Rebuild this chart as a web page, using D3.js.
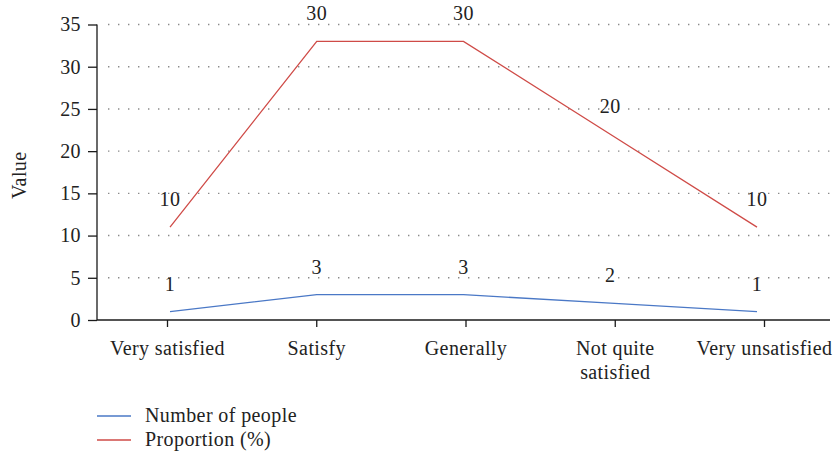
<!DOCTYPE html>
<html>
<head>
<meta charset="utf-8">
<script src="https://cdn.jsdelivr.net/npm/d3@7/dist/d3.min.js"></script>
<style>
  html, body { margin: 0; padding: 0; background: #fff; }
  svg { display: block; }
  svg text { font-family: "Liberation Serif", "DejaVu Serif", serif; font-size: 20px; letter-spacing: 0.4px; fill: #222; }
</style>
</head>
<body>
<svg id="chart" width="835" height="456"></svg>
<script>
// Satisfaction survey: head count and share per answer
const categories = ["Very satisfied", "Satisfy", "Generally", "Not quite satisfied", "Very unsatisfied"];
const numberOfPeople = [1, 3, 3, 2, 1];
const proportion = [11, 33, 33, 22, 11];
const yTicks = [0, 5, 10, 15, 20, 25, 30, 35];
const seriesNames = ["Number of people", "Proportion (%)"];
const seriesColors = ["#4a78c6", "#cf4b47"];

const svg = d3.select("#chart");
const margin = { left: 97, top: 24.5 };

// Category axis positions and a slightly narrower span for the line vertices
const x = d3.scalePoint().domain(categories).range([167, 764]);
const xLine = d3.scalePoint().domain(categories).range([170, 757]);
const y = d3.scaleLinear().domain([0, 35]).range([320, margin.top]);

// Dotted horizontal gridlines
svg.append("g")
  .selectAll("line")
  .data(yTicks.filter(d => d > 0))
  .join("line")
  .attr("x1", 108).attr("x2", 830)
  .attr("y1", d => y(d)).attr("y2", d => y(d))
  .attr("stroke", "#8a8a8a")
  .attr("stroke-width", 1.4)
  .attr("stroke-dasharray", "1.4,8.6");

// Y axis
const yAxis = svg.append("g")
  .attr("transform", `translate(${margin.left},0)`)
  .call(d3.axisLeft(y).tickValues(yTicks).tickSize(9).tickPadding(7))
  .attr("font-family", null).attr("font-size", null);
yAxis.select(".domain").attr("stroke", "#1a1a1a").attr("stroke-width", 1.3)
  .attr("d", `M0,${y(35)}V${y(0)}`);
yAxis.selectAll(".tick line").attr("stroke", "#1a1a1a").attr("stroke-width", 1.3);
yAxis.selectAll(".tick text").attr("fill", null);

// X axis
const xAxis = svg.append("g")
  .attr("transform", `translate(0,${y(0)})`)
  .call(d3.axisBottom(x).tickSize(7).tickPadding(0).tickFormat(""))
  .attr("font-family", null).attr("font-size", null);
xAxis.select(".domain").attr("stroke", "#1a1a1a").attr("stroke-width", 1.3)
  .attr("d", `M${margin.left},0H830`);
xAxis.selectAll(".tick line").attr("stroke", "#1a1a1a").attr("stroke-width", 1.3);
xAxis.selectAll(".tick text").remove();

// Category labels, wrapped where the name is long
const wrap = { "Not quite satisfied": ["Not quite", "satisfied"] };
xAxis.selectAll(".tick").each(function (d) {
  const lines = wrap[d] || [d];
  const t = d3.select(this).append("text")
    .attr("text-anchor", "middle");
  lines.forEach((ln, i) => {
    t.append("tspan").attr("x", 0).attr("y", 35 + i * 24).text(ln);
  });
});

// Y axis title
svg.append("text")
  .attr("transform", `translate(26,${(y(0) + y(35)) / 2 + 3}) rotate(-90)`)
  .attr("text-anchor", "middle")
  .text("Value");

// Series lines with value labels
const seriesData = [numberOfPeople, proportion];
const line = d3.line()
  .x((d, i) => xLine(categories[i]))
  .y(d => y(d));
const fmt = d3.format(".1r");

seriesData.forEach((vals, s) => {
  svg.append("path")
    .datum(vals)
    .attr("fill", "none")
    .attr("stroke", seriesColors[s])
    .attr("stroke-width", 1.3)
    .attr("d", line);

  svg.append("g")
    .selectAll("text")
    .data(vals)
    .join("text")
    .attr("x", (d, i) => xLine(categories[i]))
    .attr("y", d => y(d) - 21)
    .attr("text-anchor", "middle")
    .text(d => fmt(d));
});

// Legend
const legend = svg.append("g");
seriesNames.forEach((name, i) => {
  const ly = 416 + i * 24;
  legend.append("line")
    .attr("x1", 97).attr("x2", 131)
    .attr("y1", ly).attr("y2", ly)
    .attr("stroke", seriesColors[i])
    .attr("stroke-width", 1.3);
  legend.append("text")
    .attr("x", 145).attr("y", ly + 6)
    .text(name);
});
</script>
</body>
</html>
